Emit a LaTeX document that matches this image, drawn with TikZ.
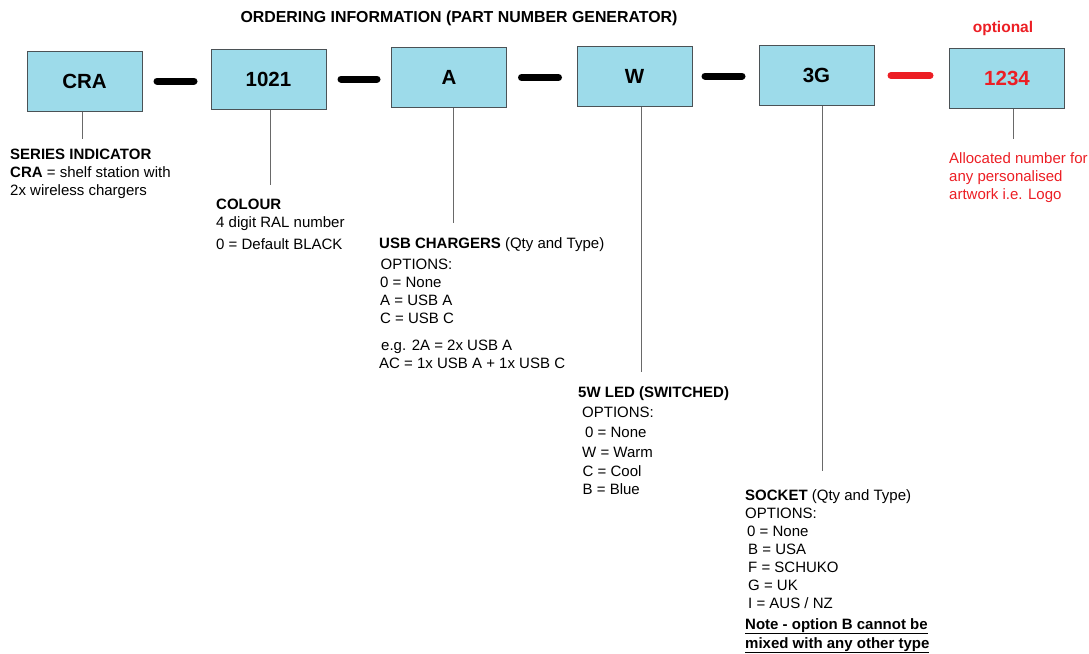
\documentclass[tikz,border=0pt]{standalone}
\usepackage{fontspec}
\setmainfont{Liberation Sans}
\usetikzlibrary{positioning}
\definecolor{boxblue}{RGB}{157,219,234}
\definecolor{boxedge}{RGB}{75,82,86}
\definecolor{stemgray}{RGB}{105,105,105}
\definecolor{optred}{RGB}{236,30,36}
\tikzset{
  code/.style={draw=boxedge,line width=1pt,fill=boxblue,minimum width=115pt,minimum height=60pt,inner sep=0pt,font=\fontsize{20.5}{22}\selectfont\bfseries},
  link/.style={line width=7pt,line cap=round,draw=black},
  stem/.style={draw=stemgray,line width=1pt},
  info/.style={anchor=north west,align=left,inner sep=0pt,font=\fontsize{15}{18}\selectfont}
}
\begin{document}
\begin{tikzpicture}[x=1pt,y=-1pt]
\useasboundingbox (0,0) rectangle (1089,653);
% title
\node[anchor=north,inner sep=0pt,font=\fontsize{15.9}{18}\selectfont\bfseries] (title) at (459,11) {ORDERING INFORMATION (PART NUMBER GENERATOR)};
% code boxes
\node[code] (cra) at (84.5,81) {CRA};
\node[code] (colour) at (268.5,79) {1021};
\node[code] (usb) at (449,77.5) {A};
\node[code] (led) at (634.5,76) {W};
\node[code] (socket) at (816.5,75.5) {3G};
\node[code,text=optred] (logo) at (1007,78.5) {1234};
\node[anchor=south,inner sep=0pt,text=optred,font=\fontsize{15.5}{18}\selectfont\bfseries] (optional) at (1003,36) {optional};
% separators
\draw[link] ([xshift=14.5pt]cra.east) -- ++(37,0);
\draw[link] ([xshift=14.5pt]colour.east) -- ++(36,0);
\draw[link] ([xshift=14.5pt]usb.east) -- ++(37,0);
\draw[link] ([xshift=12.5pt]led.east) -- ++(37,0);
\draw[link,draw=optred] ([xshift=16.5pt]socket.east) -- ++(39,0);
% stem ends
\coordinate (craend) at (82,139);
\coordinate (colourend) at (270,185);
\coordinate (usbend) at (453,223);
\coordinate (ledend) at (641,372);
\coordinate (socketend) at (822,471);
\coordinate (logoend) at (1013,139);
\draw[stem] (craend |- cra.south) -- (craend);
\draw[stem] (colourend |- colour.south) -- (colourend);
\draw[stem] (usbend |- usb.south) -- (usbend);
\draw[stem] (ledend |- led.south) -- (ledend);
\draw[stem] (socketend |- socket.south) -- (socketend);
\draw[stem] (logoend |- logo.south) -- (logoend);
% descriptions
\node[info] (series) at (10,149) {\textbf{SERIES INDICATOR}\\
\textbf{CRA} = shelf station with\\
2x wireless chargers};
\node[info] (colourtxt) at (216,199) {\textbf{COLOUR}\\
4 digit RAL number\\[4pt]
0 = Default BLACK};
\node[info] (usbtxt) at (379,237) {\textbf{USB CHARGERS} (Qty and Type)\\[3pt]
\hspace{1.5pt}OPTIONS:\\
\hspace{1pt}0 = None\\
\hspace{1pt}A = USB A\\
\hspace{1pt}C = USB C\\[9pt]
\hspace{2pt}e.g. 2A = 2x USB A\\
AC = 1x USB A + 1x USB C};
\node[info] (ledtxt) at (578,386) {\textbf{5W LED (SWITCHED)}\\[2pt]
\hspace{4pt}OPTIONS:\\[2.5pt]
\hspace{7pt}0 = None\\[2pt]
\hspace{4pt}W = Warm\\[0.5pt]
\hspace{4.5pt}C = Cool\\
\hspace{4.5pt}B = Blue};
\node[info] (sockettxt) at (745,489) {\textbf{SOCKET} (Qty and Type)\\
OPTIONS:\\
\hspace{2pt}0 = None\\
\hspace{3pt}B = USA\\
\hspace{3pt}F = SCHUKO\\
\hspace{3pt}G = UK\\
\hspace{3pt}I = AUS / NZ\\[3pt]
\textbf{\underline{Note - option B cannot be}}\\[1pt]
\textbf{\underline{mixed with any other type}}};
\node[info,text=optred] (logotxt) at (949,152.5) {Allocated number for\\
any personalised\\
artwork i.e. Logo};
\end{tikzpicture}
\end{document}
